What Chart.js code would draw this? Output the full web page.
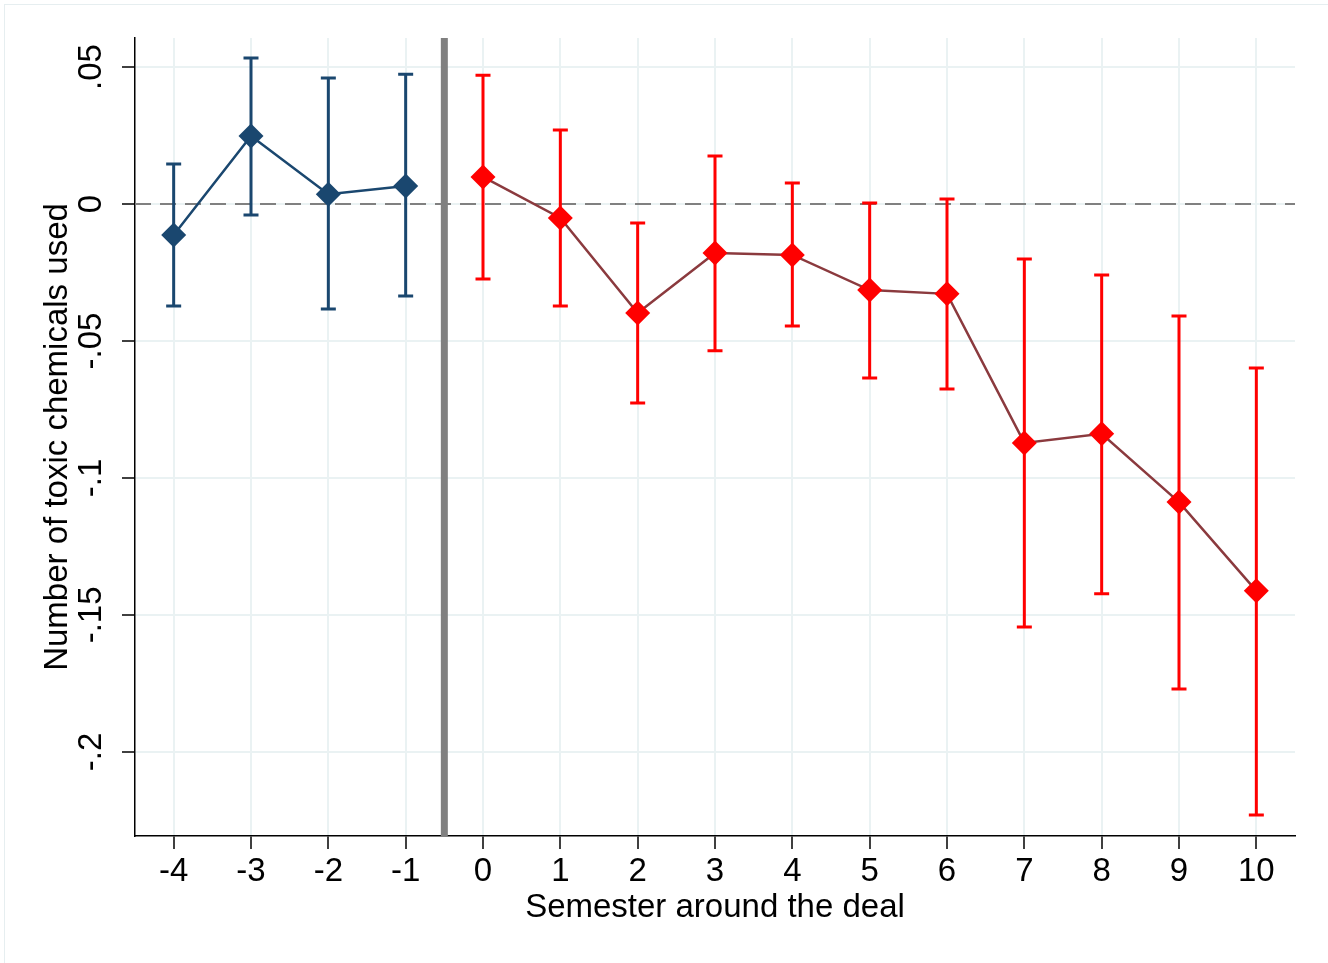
<!DOCTYPE html>
<html>
<head>
<meta charset="utf-8">
<title>Number of toxic chemicals used</title>
<script src="https://cdn.jsdelivr.net/npm/chart.js@4.4.0/dist/chart.umd.min.js"></script>
<style>
    html, body { margin: 0; padding: 0; background: #fff; }
    #wrap { position: relative; width: 1328px; height: 963px; }
    #frame { position: absolute; left: 4px; top: 4px; right: 0; bottom: 0;
             border-left: 1px solid #e6eef0; border-top: 1px solid #e6eef0; }
    canvas { position: absolute; left: 0; top: 0; }
</style>
</head>
<body>
<div id="wrap">
    <div id="frame"></div>
    <canvas id="eventChart" width="1328" height="963"></canvas>
</div>
<script>
// Datos (estimaciones e intervalos de confianza)
const semesters = [-4, -3, -2, -1, 0, 1, 2, 3, 4, 5, 6, 7, 8, 9, 10];
const estimates = [-0.0113, 0.0248, 0.0036, 0.0066, 0.0099, -0.0051, -0.0398, -0.0179, -0.0186, -0.0314, -0.0328, -0.0872, -0.0839, -0.1088, -0.1412];
const ciLow     = [-0.0372, -0.0040, -0.0383, -0.0336, -0.0274, -0.0372, -0.0726, -0.0536, -0.0445, -0.0635, -0.0675, -0.1544, -0.1423, -0.1770, -0.2230];
const ciHigh    = [0.0146, 0.0533, 0.0460, 0.0474, 0.0470, 0.0270, -0.0069, 0.0175, 0.0077, 0.0004, 0.0018, -0.0201, -0.0259, -0.0409, -0.0599];
const yTicks = [-0.2, -0.15, -0.1, -0.05, 0, 0.05];
const yTickLabels = ['-.2', '-.15', '-.1', '-.05', '0', '.05'];
const dealLine = -0.5;

const NAVY = '#1a476f';
const RED = '#ff0000';
const MAROON = '#8b3a3e';
const GRID = '#eaf2f3';
const FONT = 'Liberation Sans, Arial, sans-serif';

// Separar periodo previo y posterior al acuerdo
function buildSeries(pre) {
    return semesters
        .map((s, i) => ({ x: s, y: estimates[i] }))
        .filter(p => pre ? p.x < 0 : p.x >= 0);
}

// Líneas de referencia: cero discontinuo y semestre del acuerdo
const referenceLines = {
    id: 'referenceLines',
    beforeDatasetsDraw(chart) {
        const { ctx, chartArea, scales: { x, y } } = chart;
        ctx.save();
        ctx.strokeStyle = '#808080';
        ctx.lineWidth = 2;
        ctx.setLineDash([16, 9]);
        const y0 = y.getPixelForValue(0);
        ctx.beginPath();
        ctx.moveTo(chartArea.left, y0);
        ctx.lineTo(chartArea.right, y0);
        ctx.stroke();
        ctx.setLineDash([]);
        ctx.lineWidth = 7;
        const xd = x.getPixelForValue(dealLine);
        ctx.beginPath();
        ctx.moveTo(xd, chartArea.top);
        ctx.lineTo(xd, chartArea.bottom);
        ctx.stroke();
        ctx.restore();
    }
};

// Barras de error con remates
const errorBars = {
    id: 'errorBars',
    beforeDatasetsDraw(chart) {
        const { ctx, scales: { x, y } } = chart;
        ctx.save();
        ctx.lineWidth = 3;
        semesters.forEach((s, i) => {
            const px = x.getPixelForValue(s);
            const lo = y.getPixelForValue(ciLow[i]);
            const hi = y.getPixelForValue(ciHigh[i]);
            ctx.strokeStyle = s < 0 ? NAVY : RED;
            ctx.beginPath();
            ctx.moveTo(px, lo);
            ctx.lineTo(px, hi);
            ctx.moveTo(px - 7.5, lo);
            ctx.lineTo(px + 7.5, lo);
            ctx.moveTo(px - 7.5, hi);
            ctx.lineTo(px + 7.5, hi);
            ctx.stroke();
        });
        ctx.restore();
    }
};

// Etiquetas del eje Y giradas 90 grados
const rotatedYLabels = {
    id: 'rotatedYLabels',
    afterDraw(chart) {
        const { ctx, scales: { y } } = chart;
        ctx.save();
        ctx.fillStyle = '#000';
        ctx.font = `33px ${FONT}`;
        ctx.textAlign = 'center';
        ctx.textBaseline = 'alphabetic';
        yTicks.forEach((v, i) => {
            ctx.save();
            ctx.translate(101, y.getPixelForValue(v));
            ctx.rotate(-Math.PI / 2);
            ctx.fillText(yTickLabels[i], 0, 0);
            ctx.restore();
        });
        ctx.restore();
    }
};

new Chart(document.getElementById('eventChart').getContext('2d'), {
    type: 'scatter',
    data: {
        datasets: [
            {
                label: 'Pre',
                data: buildSeries(true),
                showLine: true,
                borderColor: NAVY,
                borderWidth: 2.5,
                pointStyle: 'rectRot',
                pointRadius: 12.5,
                pointBackgroundColor: NAVY,
                pointBorderColor: NAVY,
                pointBorderWidth: 0
            },
            {
                label: 'Post',
                data: buildSeries(false),
                showLine: true,
                borderColor: MAROON,
                borderWidth: 2.5,
                pointStyle: 'rectRot',
                pointRadius: 12.5,
                pointBackgroundColor: RED,
                pointBorderColor: RED,
                pointBorderWidth: 0
            }
        ]
    },
    options: {
        responsive: false,
        animation: false,
        devicePixelRatio: 1,
        layout: { padding: { top: 38, right: 33, left: 0, bottom: 0 } },
        plugins: {
            legend: { display: false },
            tooltip: { enabled: false }
        },
        scales: {
            x: {
                type: 'linear',
                min: -4.5,
                max: 10.5,
                afterBuildTicks: scale => { scale.ticks = semesters.map(v => ({ value: v })); },
                afterFit: scale => { scale.height = 127; },
                grid: { color: GRID, lineWidth: 2, tickColor: '#000', tickLength: 13, tickWidth: 1.5 },
                border: { display: true, color: '#000', width: 1.5 },
                ticks: {
                    color: '#000',
                    font: { family: FONT, size: 33 },
                    padding: 3,
                    maxRotation: 0,
                    callback: v => String(v)
                },
                title: {
                    display: true,
                    text: 'Semester around the deal',
                    color: '#000',
                    font: { family: FONT, size: 33 },
                    padding: { top: 0, bottom: 35 }
                }
            },
            y: {
                type: 'linear',
                min: -0.2307,
                max: 0.0606,
                afterBuildTicks: scale => { scale.ticks = yTicks.map(v => ({ value: v })); },
                afterFit: scale => { scale.width = 135; },
                grid: { color: GRID, lineWidth: 2, tickColor: '#000', tickLength: 13, tickWidth: 1.5 },
                border: { display: true, color: '#000', width: 1.5 },
                ticks: { display: false },
                title: {
                    display: true,
                    text: 'Number of toxic chemicals used',
                    color: '#000',
                    font: { family: FONT, size: 33 },
                    padding: { top: 38, bottom: 0 }
                }
            }
        }
    },
    plugins: [referenceLines, errorBars, rotatedYLabels]
});
</script>
</body>
</html>
